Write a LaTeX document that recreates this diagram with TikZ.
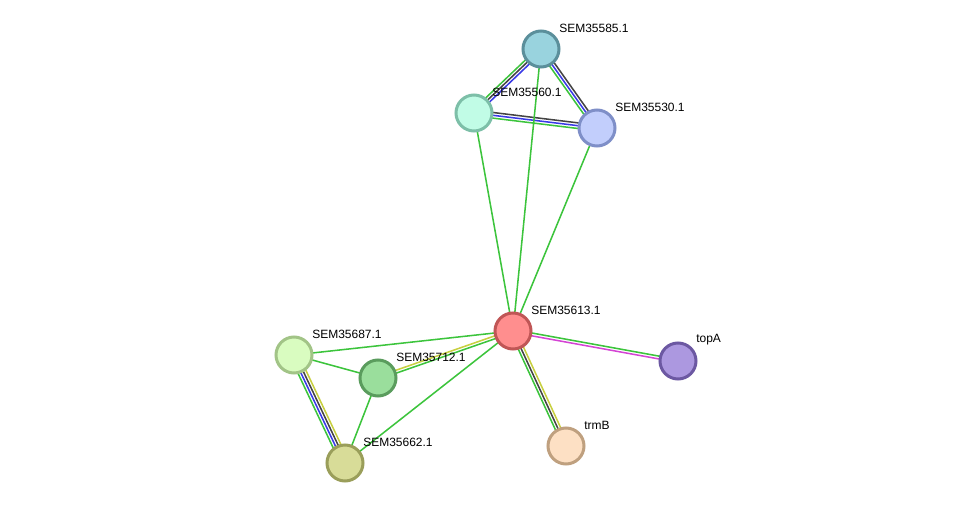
\documentclass[tikz,border=0pt]{standalone}
\usepackage{fontspec}
\setmainfont{Liberation Sans}
\usetikzlibrary{calc,backgrounds}
\definecolor{evgreen}{HTML}{3CC43C}
\definecolor{evblue}{HTML}{3A3AE6}
\definecolor{evdark}{HTML}{444444}
\definecolor{evyellow}{HTML}{C8D040}
\definecolor{evmagenta}{HTML}{D444D4}

\tikzset{
  prot/.style={circle,minimum size=27pt,inner sep=0pt,line width=2.25pt},
  plabel/.style={anchor=west,inner sep=0pt,font=\fontsize{9}{10}\selectfont},
  link/.style={line width=1.15pt}
}
\newcommand\multilink[3]{%
  \foreach \off/\col in {#3}{%
    \draw[link,\col] ($(#1)!\off!90:(#2)$) -- ($(#2)!\off!-90:(#1)$);}}

\begin{document}
\begin{tikzpicture}[x=0.75pt,y=-0.75pt]
  \useasboundingbox (0,0) rectangle (976,509);
  % proteins
  \node[prot,fill={rgb,255:red,153;green,211;blue,222},draw={rgb,255:red,91;green,143;blue,155}] (p585) at (541,49) {};
  \node[prot,fill={rgb,255:red,193;green,252;blue,230},draw={rgb,255:red,125;green,191;blue,168}] (p560) at (474,113) {};
  \node[prot,fill={rgb,255:red,194;green,206;blue,252},draw={rgb,255:red,127;green,143;blue,200}] (p530) at (597,128) {};
  \node[prot,fill={rgb,255:red,255;green,142;blue,142},draw={rgb,255:red,192;green,86;blue,86}] (p613) at (513,331) {};
  \node[prot,fill={rgb,255:red,217;green,252;blue,192},draw={rgb,255:red,162;green,196;blue,135}] (p687) at (294,355) {};
  \node[prot,fill={rgb,255:red,154;green,222;blue,156},draw={rgb,255:red,90;green,156;blue,93}] (p712) at (378,378) {};
  \node[prot,fill={rgb,255:red,216;green,220;blue,152},draw={rgb,255:red,154;green,158;blue,90}] (p662) at (345,463) {};
  \node[prot,fill={rgb,255:red,172;green,152;blue,224},draw={rgb,255:red,108;green,88;blue,162}] (topA) at (678,361) {};
  \node[prot,fill={rgb,255:red,253;green,224;blue,196},draw={rgb,255:red,191;green,160;blue,127}] (trmB) at (566,446) {};
  % labels
  \node[plabel] (l585) at ($(p585)+(18,-21)$) {SEM35585.1};
  \node[plabel] (l560) at ($(p560)+(18,-21)$) {SEM35560.1};
  \node[plabel] (l530) at ($(p530)+(18,-21)$) {SEM35530.1};
  \node[plabel] (l613) at ($(p613)+(18,-21)$) {SEM35613.1};
  \node[plabel] (l687) at ($(p687)+(18,-21)$) {SEM35687.1};
  \node[plabel] (l712) at ($(p712)+(18,-21)$) {SEM35712.1};
  \node[plabel] (l662) at ($(p662)+(18,-21)$) {SEM35662.1};
  \node[plabel] (ltopA) at ($(topA)+(18,-21)$) {topA};
  \node[plabel] (ltrmB) at ($(trmB)+(18,-21)$) {trmB};
  % edges
  \begin{scope}[on background layer]
    \multilink{p585}{p560}{-2.1pt/evgreen,0pt/evdark,2.1pt/evblue}
    \multilink{p585}{p530}{2.1pt/evdark,0pt/evblue,-2.1pt/evgreen}
    \multilink{p560}{p530}{2.1pt/evdark,0pt/evblue,-2.1pt/evgreen}
    \multilink{p560}{p613}{0pt/evgreen}
    \multilink{p585}{p613}{0pt/evgreen}
    \multilink{p530}{p613}{0pt/evgreen}
    \multilink{p613}{p687}{0pt/evgreen}
    \multilink{p613}{p712}{-1.05pt/evyellow,1.05pt/evgreen}
    \multilink{p613}{p662}{0pt/evgreen}
    \multilink{p687}{p712}{0pt/evgreen}
    \multilink{p712}{p662}{0pt/evgreen}
    \multilink{p687}{p662}{3.15pt/evyellow,1.05pt/evdark,-1.05pt/evblue,-3.15pt/evgreen}
    \multilink{p613}{topA}{1.05pt/evgreen,-1.05pt/evmagenta}
    \multilink{p613}{trmB}{2.1pt/evyellow,0pt/evdark,-2.1pt/evgreen}
  \end{scope}
\end{tikzpicture}
\end{document}
